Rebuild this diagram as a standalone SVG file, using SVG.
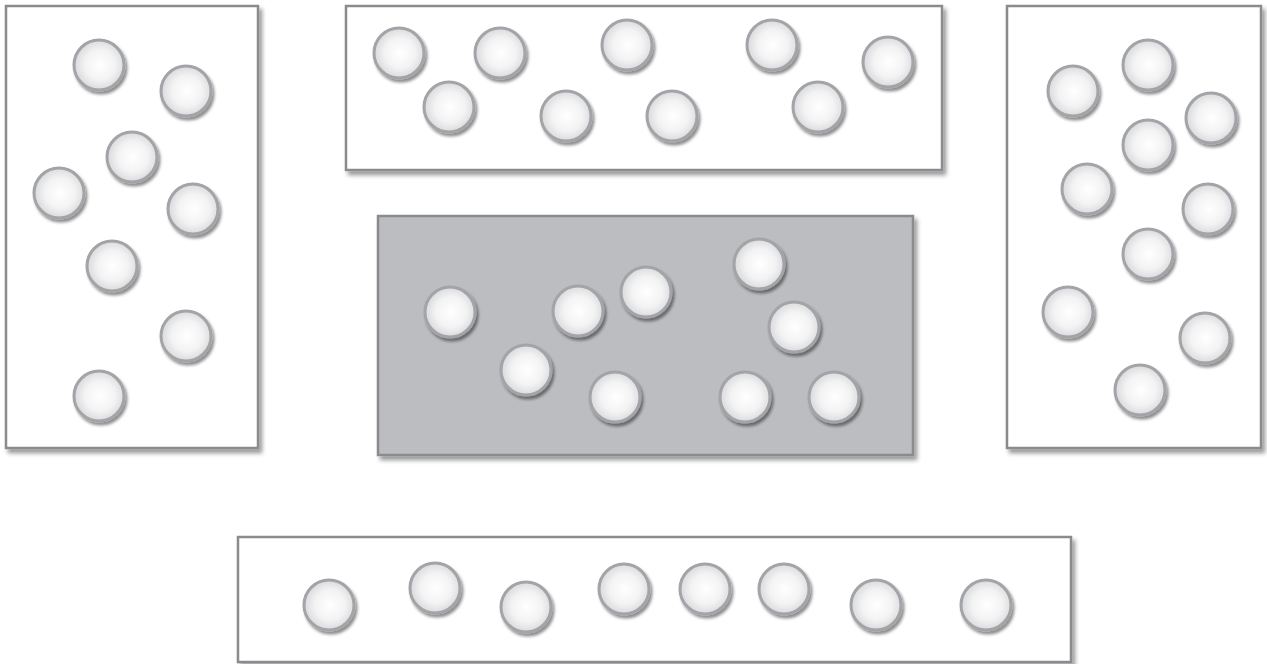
<svg xmlns="http://www.w3.org/2000/svg" width="1267" height="664" viewBox="0 0 1267 664">
<defs>
<radialGradient id="ball" cx="52%" cy="50%" r="55%">
<stop offset="0" stop-color="#ffffff"/>
<stop offset="0.55" stop-color="#f3f3f4"/>
<stop offset="1" stop-color="#d4d5d7"/>
</radialGradient>
<filter id="bshadow" x="-30%" y="-30%" width="170%" height="170%">
<feDropShadow dx="2" dy="3" stdDeviation="1.8" flood-color="#000" flood-opacity="0.45"/>
</filter>
<filter id="rshadow" x="-5%" y="-5%" width="110%" height="115%">
<feDropShadow dx="3" dy="4" stdDeviation="2" flood-color="#000" flood-opacity="0.4"/>
</filter>
<symbol id="b" overflow="visible">
<circle cx="0" cy="0" r="25" fill="url(#ball)" stroke="#a3a4a7" stroke-width="3" filter="url(#bshadow)"/>
</symbol>
</defs>
<style>
.box{fill:#ffffff;stroke:#8a8b8e;stroke-width:2.5;filter:url(#rshadow)}
.gray{fill:#bcbdc0}
</style>
<rect width="1267" height="664" fill="#ffffff"/>
<g id="left">
<rect class="box" x="6" y="6" width="252" height="442"/>
<use href="#b" x="99" y="65"/>
<use href="#b" x="186" y="91"/>
<use href="#b" x="132" y="157"/>
<use href="#b" x="59" y="193"/>
<use href="#b" x="193" y="209"/>
<use href="#b" x="112" y="266"/>
<use href="#b" x="186" y="336"/>
<use href="#b" x="99" y="396"/>
</g>
<g id="top">
<rect class="box" x="346" y="6" width="596" height="164"/>
<use href="#b" x="399" y="53"/>
<use href="#b" x="500" y="53"/>
<use href="#b" x="627" y="45"/>
<use href="#b" x="772" y="45"/>
<use href="#b" x="888" y="62"/>
<use href="#b" x="449" y="107"/>
<use href="#b" x="566" y="116"/>
<use href="#b" x="672" y="116"/>
<use href="#b" x="818" y="107"/>
</g>
<g id="middle">
<rect class="box gray" x="378" y="216" width="535" height="239"/>
<use href="#b" x="450" y="312"/>
<use href="#b" x="578" y="311"/>
<use href="#b" x="646" y="292"/>
<use href="#b" x="759" y="264"/>
<use href="#b" x="794" y="327"/>
<use href="#b" x="526" y="370"/>
<use href="#b" x="615" y="397"/>
<use href="#b" x="745" y="397"/>
<use href="#b" x="834" y="397"/>
</g>
<g id="right">
<rect class="box" x="1007" y="6" width="254" height="442"/>
<use href="#b" x="1073" y="91"/>
<use href="#b" x="1148" y="65"/>
<use href="#b" x="1211" y="118"/>
<use href="#b" x="1148" y="145"/>
<use href="#b" x="1087" y="189"/>
<use href="#b" x="1208" y="209"/>
<use href="#b" x="1148" y="254"/>
<use href="#b" x="1068" y="312"/>
<use href="#b" x="1205" y="338"/>
<use href="#b" x="1140" y="390"/>
</g>
<g id="bottom">
<rect class="box" x="238" y="537" width="833" height="125"/>
<use href="#b" x="329" y="605"/>
<use href="#b" x="435" y="588"/>
<use href="#b" x="526" y="607"/>
<use href="#b" x="624" y="589"/>
<use href="#b" x="705" y="589"/>
<use href="#b" x="784" y="589"/>
<use href="#b" x="876" y="605"/>
<use href="#b" x="986" y="605"/>
</g>
<g id="connectors"/>
</svg>
